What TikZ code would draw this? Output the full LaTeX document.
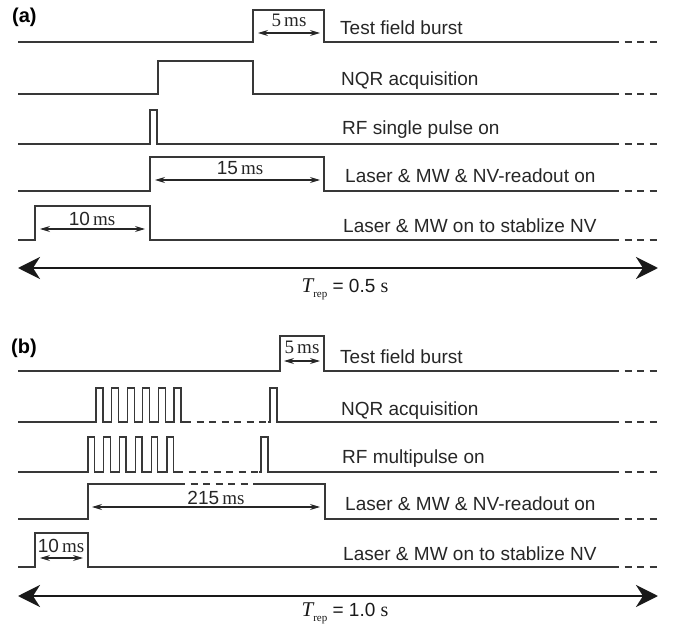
\documentclass[tikz,border=0pt]{standalone}
\usepackage{fontspec}
\setmainfont{Liberation Sans}
\newfontfamily\seriffont{Liberation Serif}
\usetikzlibrary{arrows.meta}
\begin{document}
\begin{tikzpicture}[x=1pt,y=-1pt,
  sig/.style={line width=1.3pt, draw=black!78, line join=miter},
  dsh/.style={line width=1.3pt, draw=black!78, dash pattern=on 7pt off 5.5pt},
  lbl/.style={anchor=base west, font=\fontsize{19}{22}\selectfont, text=black!85, inner sep=0pt},
  dur/.style={anchor=base, font=\fontsize{19}{21}\selectfont, text=black!85, inner sep=0pt},
  darr/.style={line width=1.1pt, draw=black!85, {Stealth[length=10pt,width=6pt]}-{Stealth[length=10pt,width=6pt]}},
  period/.style={line width=2.8pt, draw=black!90, {Stealth[length=22pt,width=22pt,inset=7pt]}-{Stealth[length=22pt,width=22pt,inset=7pt]}},
  tag/.style={anchor=base west, font=\fontsize{20}{22}\selectfont\bfseries, inner sep=0pt},
  trep/.style={anchor=base, font=\fontsize{19}{22}\selectfont, text=black!90, inner sep=0pt}
]
\useasboundingbox (0,0) rectangle (678,631);

% ================= panel (a) =================
\node[tag] (taga) at (12,23) {(a)};

% row 1: test field burst
\draw[sig] (18,42) -- (253,42) -- (253,10) -- (324,10) -- (324,42) -- (612,42);
\draw[dsh] (612,42) -- (658,42);
\coordinate (a1L) at (258,33); \coordinate (a1R) at (320,33);
\draw[darr] (a1L) -- (a1R);
\node[dur] (d1) at (289,27) {{\seriffont 5\,ms}};
\node[lbl] (ta1) at (340,35) {Test field burst};

% row 2: NQR acquisition
\draw[sig] (18,94) -- (158,94) -- (158,61) -- (253,61) -- (253,94) -- (612,94);
\draw[dsh] (612,94) -- (658,94);
\node[lbl] (ta2) at (341,86) {NQR acquisition};

% row 3: RF single pulse
\draw[sig] (18,144) -- (150,144) -- (150,110) -- (157,110) -- (157,144) -- (612,144);
\draw[dsh] (612,144) -- (658,144);
\node[lbl] (ta3) at (342,135) {RF single pulse on};

% row 4: readout
\draw[sig] (18,191) -- (150,191) -- (150,157) -- (324,157) -- (324,191) -- (612,191);
\draw[dsh] (612,191) -- (658,191);
\coordinate (a4L) at (155,180); \coordinate (a4R) at (320,180);
\draw[darr] (a4L) -- (a4R);
\node[dur] (d4) at (240,175) {15\,{\seriffont ms}};
\node[lbl] (ta4) at (345,183) {Laser \& MW \& NV-readout on};

% row 5: stabilize
\draw[sig] (18,240) -- (35,240) -- (35,206) -- (150,206) -- (150,240) -- (612,240);
\draw[dsh] (612,240) -- (658,240);
\coordinate (a5L) at (40,229); \coordinate (a5R) at (145,229);
\draw[darr] (a5L) -- (a5R);
\node[dur] (d5) at (92,226) {10\,{\seriffont ms}};
\node[lbl] (ta5) at (343,233) {Laser \& MW on to stablize NV};

% period arrow
\coordinate (pAL) at (18,268); \coordinate (pAR) at (658,268);
\draw[period] (pAL) -- (pAR);
\node[trep] (tra) at (345,293) {{\fontsize{21}{22}\selectfont\seriffont\itshape T}\raisebox{-5pt}{\fontsize{11}{12}\selectfont\seriffont rep}\ = 0.5 {\fontsize{20}{22}\selectfont\seriffont s}};

% ================= panel (b) =================
\node[tag] (tagb) at (11,353) {(b)};

% row 1: test field burst
\draw[sig] (18,371) -- (280,371) -- (280,336) -- (324,336) -- (324,371) -- (612,371);
\draw[dsh] (612,371) -- (658,371);
\coordinate (b1L) at (284,361); \coordinate (b1R) at (320,361);
\draw[darr] (b1L) -- (b1R);
\node[dur] (e1) at (302,353) {{\seriffont 5\,ms}};
\node[lbl] (tb1) at (340,363) {Test field burst};

% row 2: NQR acquisition (pulse train)
\draw[sig] (18,422) foreach \k in {0,...,5} { -- ({96+15.6*\k},422) -- ({96+15.6*\k},388) -- ({103+15.6*\k},388) -- ({103+15.6*\k},422) } -- (184,422);
\draw[dsh] (184,422) -- (268,422);
\draw[sig] (268,422) -- (270,422) -- (270,388) -- (277,388) -- (277,422) -- (612,422);
\draw[dsh] (612,422) -- (658,422);
\node[lbl] (tb2) at (341,415) {NQR acquisition};

% row 3: RF multipulse
\draw[sig] (18,472) foreach \k in {0,...,5} { -- ({88+15.8*\k},472) -- ({88+15.8*\k},437) -- ({94.5+15.8*\k},437) -- ({94.5+15.8*\k},472) } -- (176,472);
\draw[dsh] (176,472) -- (259,472);
\draw[sig] (259,472) -- (261,472) -- (261,437) -- (268,437) -- (268,472) -- (612,472);
\draw[dsh] (612,472) -- (658,472);
\node[lbl] (tb3) at (342,463) {RF multipulse on};

% row 4: readout
\draw[sig] (18,519) -- (88,519) -- (88,484) -- (178,484);
\draw[dsh] (178,484) -- (258,484);
\draw[sig] (258,484) -- (325,484) -- (325,519) -- (612,519);
\draw[dsh] (612,519) -- (658,519);
\coordinate (b4L) at (92,507); \coordinate (b4R) at (320,507);
\draw[darr] (b4L) -- (b4R);
\node[dur] (e4) at (216,504) {215\,{\seriffont ms}};
\node[lbl] (tb4) at (345,510) {Laser \& MW \& NV-readout on};

% row 5: stabilize
\draw[sig] (18,567) -- (35,567) -- (35,533) -- (88,533) -- (88,567) -- (612,567);
\draw[dsh] (612,567) -- (658,567);
\coordinate (b5L) at (40,558); \coordinate (b5R) at (83,558);
\draw[darr] (b5L) -- (b5R);
\node[dur] (e5) at (61,552) {10\,{\seriffont ms}};
\node[lbl] (tb5) at (343,560) {Laser \& MW on to stablize NV};

% period arrow
\coordinate (pBL) at (18,596); \coordinate (pBR) at (658,596);
\draw[period] (pBL) -- (pBR);
\node[trep] (trb) at (345,616) {{\fontsize{21}{22}\selectfont\seriffont\itshape T}\raisebox{-5pt}{\fontsize{11}{12}\selectfont\seriffont rep}\ = 1.0 {\fontsize{20}{22}\selectfont\seriffont s}};
\end{tikzpicture}
\end{document}
